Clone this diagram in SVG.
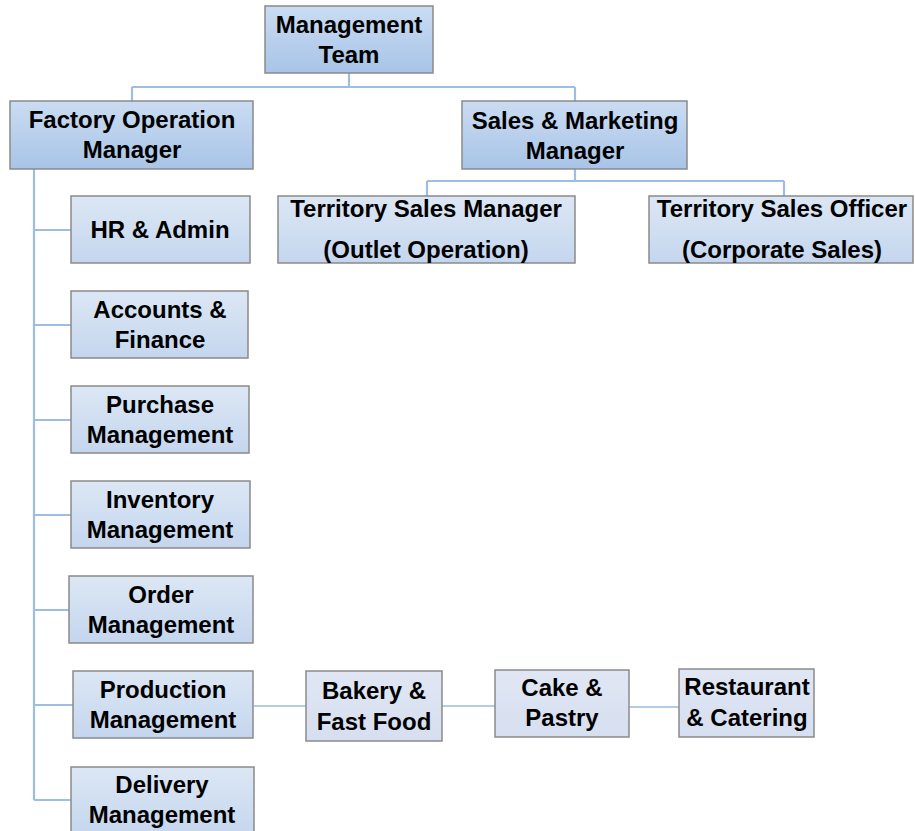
<svg xmlns="http://www.w3.org/2000/svg" width="915" height="831" viewBox="0 0 915 831">
<defs>
<linearGradient id="gTop" x1="0" y1="0" x2="0" y2="1"><stop offset="0" stop-color="#cadcf2"/><stop offset="1" stop-color="#a8c4e7"/></linearGradient>
<linearGradient id="gMid" x1="0" y1="0" x2="0" y2="1"><stop offset="0" stop-color="#dce7f4"/><stop offset="1" stop-color="#c4d6ee"/></linearGradient>
<linearGradient id="gLow" x1="0" y1="0" x2="0" y2="1"><stop offset="0" stop-color="#e0e6f3"/><stop offset="1" stop-color="#d6dff0"/></linearGradient>
</defs>
<style>
rect.box{stroke:#8a8a8a;stroke-width:1.5}
rect.top{fill:url(#gTop)}
rect.mid{fill:url(#gMid)}
rect.low{fill:url(#gLow)}
text{font-family:"Liberation Sans",Arial,sans-serif;font-weight:bold;font-size:24px;fill:#000;text-anchor:middle}
.conn path{fill:none;stroke:#9dbde6;stroke-width:2.2}
.conn path.thin{stroke:#b3cce9;stroke-width:2}
</style>
<g class="conn" id="connectors">
<path d="M349,73 V87 M132,87 H575 M132,87 V101 M575,87 V101"/>
<path d="M575,169 V181 M427,181 H784 M427,181 V196 M784,181 V196"/>
<path d="M34,169 V800 M34,230 H71 M34,325 H71 M34,420 H71 M34,515 H71 M34,610 H69 M34,705 H73 M34,800 H71"/>
<path class="thin" d="M254,706 H306 M442,706 H495 M629,707 H679"/>
</g>
<g id="management-team"><rect class="box top" x="265" y="6" width="168" height="67"/><text x="349" y="33">Management</text><text x="349" y="63">Team</text></g>
<g id="factory-operation-manager"><rect class="box top" x="10" y="101" width="243" height="68"/><text x="132" y="128">Factory Operation</text><text x="132" y="158">Manager</text></g>
<g id="sales-marketing-manager"><rect class="box top" x="462" y="101" width="225" height="68"/><text x="575" y="129">Sales &amp; Marketing</text><text x="575" y="159">Manager</text></g>
<g id="territory-sales-manager"><rect class="box mid" x="278" y="196" width="297" height="67"/><text x="426" y="217">Territory Sales Manager</text><text x="426" y="258">(Outlet Operation)</text></g>
<g id="territory-sales-officer"><rect class="box mid" x="649" y="196" width="264" height="67"/><text x="782" y="217">Territory Sales Officer</text><text x="782" y="258">(Corporate Sales)</text></g>
<g id="hr-admin"><rect class="box mid" x="71" y="196" width="179" height="67"/><text x="160" y="238">HR &amp; Admin</text></g>
<g id="accounts-finance"><rect class="box mid" x="71" y="291" width="177" height="67"/><text x="160" y="318">Accounts &amp;</text><text x="160" y="348">Finance</text></g>
<g id="purchase-management"><rect class="box mid" x="71" y="386" width="178" height="67"/><text x="160" y="413">Purchase</text><text x="160" y="443">Management</text></g>
<g id="inventory-management"><rect class="box mid" x="71" y="481" width="179" height="67"/><text x="160" y="508">Inventory</text><text x="160" y="538">Management</text></g>
<g id="order-management"><rect class="box mid" x="69" y="576" width="184" height="67"/><text x="161" y="603">Order</text><text x="161" y="633">Management</text></g>
<g id="production-management"><rect class="box mid" x="73" y="671" width="180" height="67"/><text x="163" y="698">Production</text><text x="163" y="728">Management</text></g>
<g id="delivery-management"><rect class="box mid" x="71" y="767" width="183" height="70"/><text x="162" y="793">Delivery</text><text x="162" y="823">Management</text></g>
<g id="bakery-fast-food"><rect class="box low" x="306" y="671" width="136" height="70"/><text x="374" y="699">Bakery &amp;</text><text x="374" y="730">Fast Food</text></g>
<g id="cake-pastry"><rect class="box low" x="495" y="670" width="134" height="67"/><text x="562" y="696">Cake &amp;</text><text x="562" y="726">Pastry</text></g>
<g id="restaurant-catering"><rect class="box low" x="679" y="669" width="135" height="68"/><text x="747" y="695">Restaurant</text><text x="747" y="726">&amp; Catering</text></g>
</svg>
